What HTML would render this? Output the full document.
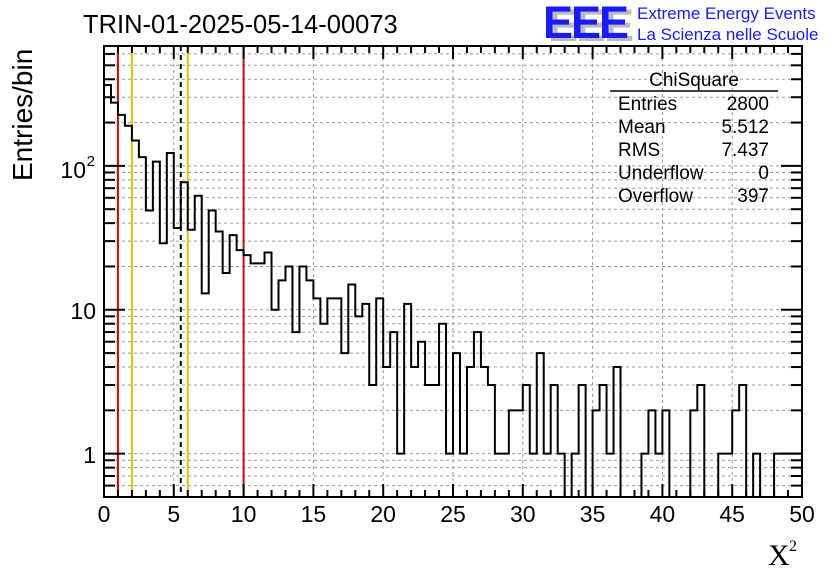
<!DOCTYPE html>
<html><head><meta charset="utf-8"><style>
html,body{margin:0;padding:0;background:#fff;}
svg text{font-family:"Liberation Sans",sans-serif;}
</style></head><body>
<svg id="chart" width="836" height="572" viewBox="0 0 836 572" xmlns="http://www.w3.org/2000/svg">
<rect width="836" height="572" fill="#fff"/>
<g id="grid"></g>
<g id="vlines"></g>
<path id="hist" fill="none" stroke="#000" stroke-width="2"/>
<rect x="104" y="46" width="698" height="451" fill="none" stroke="#000" stroke-width="2"/>
<g id="ticks"></g>
<g id="xlabels"></g>
<g font-size="23" text-anchor="end">
<text x="96" y="463">1</text>
<text x="96" y="319">10</text>
<text x="86" y="178">10</text>
<text x="95" y="166" font-size="15">2</text>
</g>
<text x="0" y="0" transform="translate(32,181) rotate(-90)" font-size="28">Entries/bin</text>
<text x="768" y="565" font-size="30" style="font-family:'Liberation Serif',serif">X</text>
<text x="789" y="551" font-size="16" style="font-family:'Liberation Serif',serif">2</text>
<text x="83" y="33" font-size="25.5">TRIN-01-2025-05-14-00073</text>
<g>
<text x="548" y="41" font-size="45" font-weight="bold" fill="#bbb" letter-spacing="-2">EEE</text>
<text x="543" y="38" font-size="45" font-weight="bold" fill="#1a1aff" letter-spacing="-2">EEE</text>
<text x="637" y="19" font-size="17" fill="#1a1aff">Extreme Energy Events</text>
<text x="637" y="40" font-size="17" fill="#1a1aff">La Scienza nelle Scuole</text>
</g>
<g font-size="19">
<text x="694" y="86" text-anchor="middle">ChiSquare</text>
<line x1="610" y1="91" x2="778" y2="91" stroke="#000" stroke-width="1.5"/>
<text x="618" y="110">Entries</text><text x="769" y="110" text-anchor="end">2800</text>
<text x="618" y="133">Mean</text><text x="769" y="133" text-anchor="end">5.512</text>
<text x="618" y="156">RMS</text><text x="769" y="156" text-anchor="end">7.437</text>
<text x="618" y="179">Underflow</text><text x="769" y="179" text-anchor="end">0</text>
<text x="618" y="202">Overflow</text><text x="769" y="202" text-anchor="end">397</text>
</g>
</svg>
<script>
const binCounts = [365,275,226,190,150,115,49,107,29,123,37,77,36,62,13,49,35,18,33,26,
24,21,21,25,10,16,20,7,20,16,12,8,12,12,5,15,9,11,3,12,
4,7,1,11,4,6,3,3,8,1,5,1,4,7,4,3,1,1,2,2,
3,1,5,1,3,1,0,1,3,0,2,3,1,4,0,0,0,1,2,1,
2,0,0,0,2,3,0,0,1,1,2,3,0,1,0,0,1,1,1,1];
const xRange = [0,50];
const xTickLabels = [0,5,10,15,20,25,30,35,40,45,50];
const markerRed = [1,10];
const markerOrange = [2,6];
const markerMean = [5.5];

const X0=104,X1=802,Y0=497,Y1=46, LMIN=Math.log10(0.5), LMAX=Math.log10(681);
const sx=v=>X0+(v-xRange[0])/(xRange[1]-xRange[0])*(X1-X0);
const sy=v=>v<=0?Y0:Y0-(Math.log10(v)-LMIN)/(LMAX-LMIN)*(Y0-Y1);
const NS="http://www.w3.org/2000/svg";
function mk(tag,attrs,parent){const e=document.createElementNS(NS,tag);for(const k in attrs)e.setAttribute(k,attrs[k]);parent.appendChild(e);return e;}
const grid=document.getElementById('grid'),ticks=document.getElementById('ticks');
for(const v of xTickLabels){ if(v===xRange[0]||v===xRange[1])continue;
 const l=mk('line',{x1:sx(v),x2:sx(v),y1:Y1,y2:Y0,stroke:'#999','stroke-dasharray':'3,3'},grid);
 
 }
for(let d=-1;d<=2;d++)for(let m=1;m<=9;m++){const v=m*Math.pow(10,d);if(v<0.5||v>681)continue;const y=sy(v);
 const l=mk('line',{x1:X0,x2:X1,y1:y,y2:y,stroke:'#999','stroke-dasharray':'3,3'},grid);
 
 
 const len=m===1?21:11;
 mk('line',{x1:X0,x2:X0+len,y1:y,y2:y,stroke:'#000','stroke-width':2},ticks);
 mk('line',{x1:X1,x2:X1-len,y1:y,y2:y,stroke:'#000','stroke-width':2},ticks);}
for(let v=xRange[0];v<=xRange[1];v++){const len=v%5===0?13:7;const x=sx(v);
 mk('line',{x1:x,x2:x,y1:Y0,y2:Y0-len,stroke:'#000','stroke-width':2},ticks);
 mk('line',{x1:x,x2:x,y1:Y1,y2:Y1+len,stroke:'#000','stroke-width':2},ticks);}
const xl=document.getElementById('xlabels');
for(const v of xTickLabels){const t=mk('text',{x:sx(v),y:522,'font-size':23,'text-anchor':'middle'},xl);t.textContent=v;
 
 }
const vl=document.getElementById('vlines');
function vline(v,c,dash,name){const l=mk('line',{x1:sx(v),x2:sx(v),y1:Y1,y2:Y0,stroke:c,'stroke-width':2},vl);if(dash)l.setAttribute('stroke-dasharray',dash);
 
 }
markerRed.forEach(v=>vline(v,'#e00',null,'red-marker-line'));
markerOrange.forEach(v=>vline(v,'#f5c000',null,'orange-marker-line'));
markerMean.forEach(v=>vline(v,'#000','5,4','mean-marker-line'));
const bw=(xRange[1]-xRange[0])/binCounts.length;
let d='M'+sx(0)+','+Y0;
binCounts.forEach((c,i)=>{const y=sy(c);d+=' L'+sx(i*bw)+','+y+' L'+sx((i+1)*bw)+','+y;});
d+=' L'+sx(xRange[1])+','+Y0;
document.getElementById('hist').setAttribute('d',d);
</script>
</body></html>
